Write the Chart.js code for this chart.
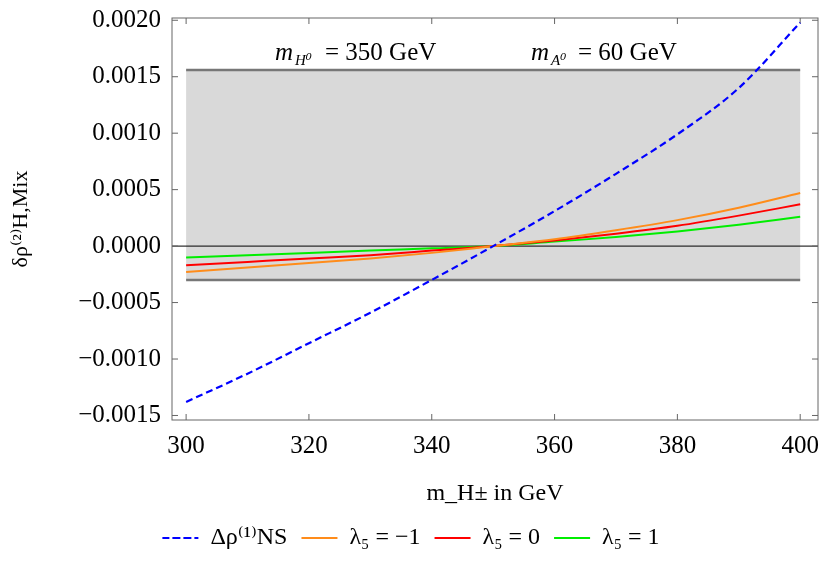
<!DOCTYPE html>
<html>
<head>
<meta charset="utf-8">
<script src="https://cdn.jsdelivr.net/npm/chart.js@4/dist/chart.umd.min.js"></script>
<style>
  body { margin: 0; background: #fff; }
  #wrap { width: 830px; height: 568px; }
</style>
</head>
<body>
<div id="wrap"><canvas id="c"></canvas></div>
<script>
// x values (charged Higgs mass in GeV)
const masses = [300, 310, 320, 330, 340, 350, 360, 370, 380, 390, 400];
const deltaRhoNS = [-0.00138, -0.00113, -0.00086, -0.00059, -0.00030, 0, 0.00031, 0.00064, 0.00099, 0.00140, 0.00198];
const lamMinus1 = [-0.00023, -0.00019, -0.00015, -0.00011, -0.00006, 0, 0.00006, 0.00014, 0.00023, 0.00034, 0.00047];
const lamZero = [-0.00017, -0.00014, -0.00011, -0.00008, -0.00004, 0, 0.00005, 0.00011, 0.00018, 0.00027, 0.00037];
const lamPlus1 = [-0.00010, -0.00008, -0.00006, -0.00004, -0.00002, 0, 0.00004, 0.00008, 0.00013, 0.00019, 0.00026];
const xTicks = [300, 320, 340, 360, 380, 400];
const yTicks = [-0.0015, -0.001, -0.0005, 0, 0.0005, 0.001, 0.0015, 0.002];
const bandLow = -0.0003;
const bandHigh = 0.00156;

const serif = "'Liberation Serif', 'DejaVu Serif', serif";
const pts = arr => arr.map((v, i) => ({ x: masses[i], y: v }));

// gray allowed band, zero line, frame and mass labels
const bandPlugin = {
  id: 'band',
  beforeDatasetsDraw(chart) {
    const { ctx, chartArea: a, scales: { x, y } } = chart;
    const x0 = x.getPixelForValue(300), x1 = x.getPixelForValue(400);
    const yt = y.getPixelForValue(bandHigh), yb = y.getPixelForValue(bandLow);
    ctx.save();
    ctx.fillStyle = '#d9d9d9';
    ctx.fillRect(x0, yt, x1 - x0, yb - yt);
    ctx.strokeStyle = '#777';
    ctx.lineWidth = 2.5;
    ctx.beginPath();
    ctx.moveTo(x0, yt); ctx.lineTo(x1, yt);
    ctx.moveTo(x0, yb); ctx.lineTo(x1, yb);
    ctx.stroke();
    ctx.strokeStyle = '#000';
    ctx.lineWidth = 1;
    const y0 = y.getPixelForValue(0);
    ctx.beginPath(); ctx.moveTo(a.left, y0); ctx.lineTo(a.right, y0); ctx.stroke();
    ctx.strokeStyle = '#666';
    ctx.strokeRect(a.left, a.top, a.right - a.left, a.bottom - a.top);
    // small inward ticks
    ctx.beginPath();
    xTicks.forEach(v => { const p = x.getPixelForValue(v); ctx.moveTo(p, a.bottom); ctx.lineTo(p, a.bottom - 6); ctx.moveTo(p, a.top); ctx.lineTo(p, a.top + 6); });
    yTicks.forEach(v => { const p = y.getPixelForValue(v); ctx.moveTo(a.left, p); ctx.lineTo(a.left + 6, p); ctx.moveTo(a.right, p); ctx.lineTo(a.right - 6, p); });
    ctx.stroke();
    ctx.fillStyle = '#000';
    ctx.textBaseline = 'alphabetic';
    ctx.font = 'italic 25px ' + serif;
    ctx.fillText('m', 275, 60);
    ctx.font = 'italic 15px ' + serif;
    ctx.fillText('H⁰', 295, 65);
    ctx.font = '25px ' + serif;
    ctx.fillText('= 350 GeV', 325, 60);
    ctx.font = 'italic 25px ' + serif;
    ctx.fillText('m', 531, 60);
    ctx.font = 'italic 15px ' + serif;
    ctx.fillText('A⁰', 551, 65);
    ctx.font = '25px ' + serif;
    ctx.fillText('= 60 GeV', 578, 60);
    ctx.restore();
  }
};

new Chart(document.getElementById('c'), {
  type: 'line',
  data: {
    datasets: [
      { label: 'Δρ⁽¹⁾NS', data: pts(deltaRhoNS), borderColor: '#0000ff', borderDash: [7, 4], borderWidth: 2.2 },
      { label: 'λ₅ = −1', data: pts(lamMinus1), borderColor: '#ff8c1a', borderWidth: 2 },
      { label: 'λ₅ = 0', data: pts(lamZero), borderColor: '#ff0000', borderWidth: 2 },
      { label: 'λ₅ = 1', data: pts(lamPlus1), borderColor: '#00ee00', borderWidth: 2 }
    ]
  },
  options: {
    responsive: true,
    maintainAspectRatio: false,
    animation: false,
    elements: { point: { radius: 0 }, line: { tension: 0.4, cubicInterpolationMode: 'monotone' } },
    layout: { padding: { top: 15, right: 12, bottom: 8, left: 4 } },
    plugins: {
      tooltip: { enabled: false },
      legend: {
        position: 'bottom',
        labels: {
          font: { family: serif, size: 24 }, color: '#000',
          boxWidth: 36, boxHeight: 0, padding: 14,
          generateLabels(chart) {
            return chart.data.datasets.map((d, i) => ({
              text: d.label, strokeStyle: d.borderColor, fillStyle: d.borderColor,
              lineWidth: 2, lineDash: d.borderDash || [], datasetIndex: i, fontColor: '#000'
            }));
          }
        }
      }
    },
    scales: {
      x: {
        type: 'linear', min: 297.7, max: 402.9,
        afterBuildTicks(s) { s.ticks = xTicks.map(v => ({ value: v })); },
        afterFit(s) { s.height = 92; },
        ticks: { color: '#000', font: { family: serif, size: 25 }, maxRotation: 0 },
        grid: { display: false },
        border: { display: false },
        title: { display: true, text: 'm_H± in GeV', color: '#000', font: { family: serif, size: 24 } }
      },
      y: {
        min: -0.00154, max: 0.00202,
        afterBuildTicks(s) { s.ticks = yTicks.map(v => ({ value: v })); },
        afterFit(s) { s.width = 168; },
        ticks: {
          color: '#000', font: { family: serif, size: 25 },
          callback: v => (v < 0 ? '−' : '') + Math.abs(v).toFixed(4)
        },
        grid: { display: false },
        border: { display: false },
        title: { display: true, text: 'δρ⁽²⁾H,Mix', color: '#000', font: { family: serif, size: 22 } }
      }
    }
  },
  plugins: [bandPlugin]
});
</script>
</body>
</html>
